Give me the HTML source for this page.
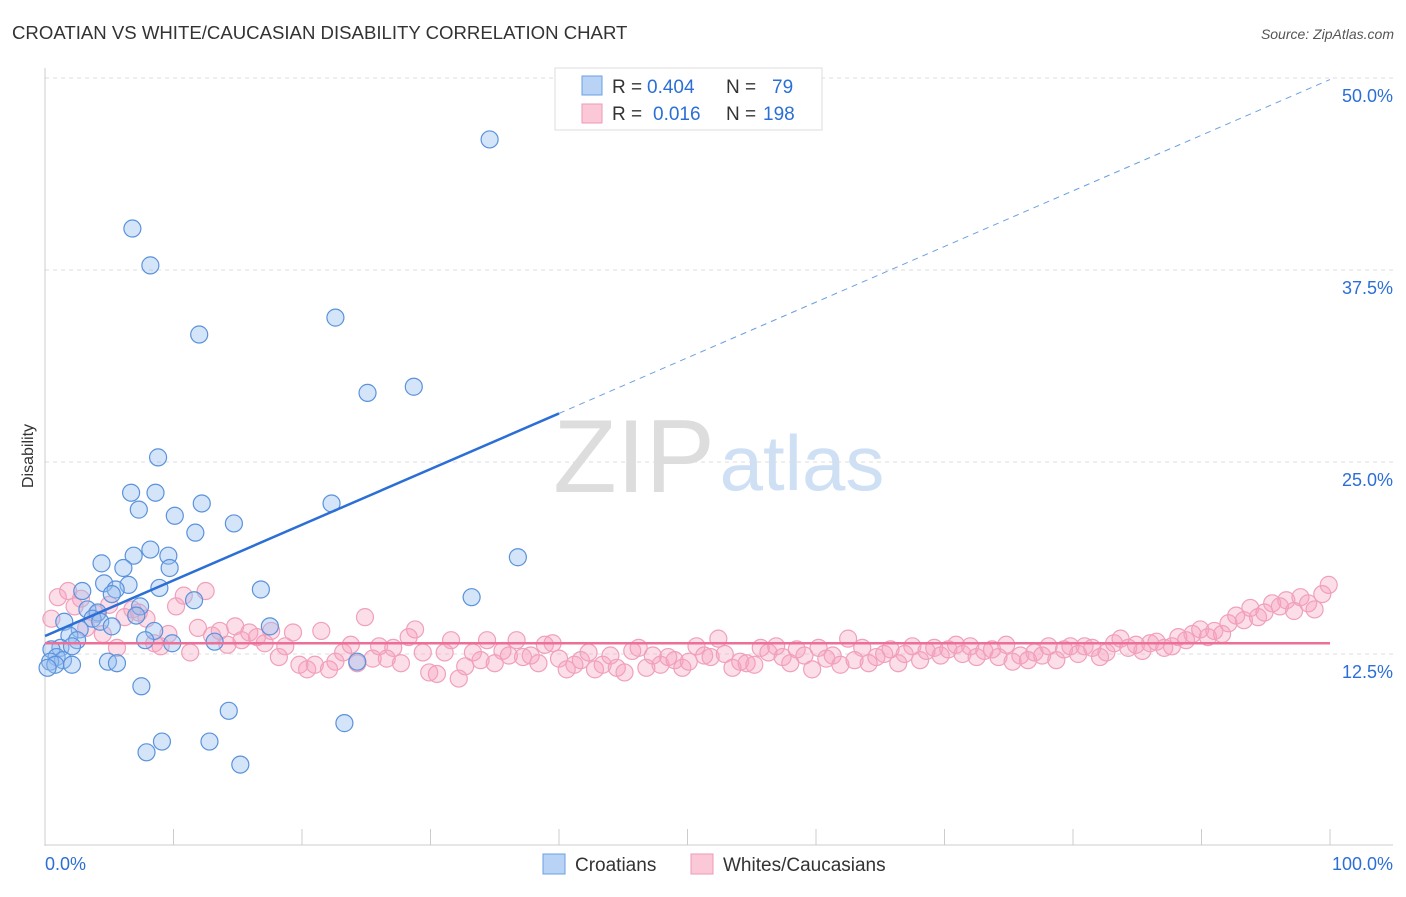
<!DOCTYPE html>
<html><head><meta charset="utf-8"><style>
body{margin:0;background:#fff;font-family:"Liberation Sans",sans-serif;}
svg text{font-family:"Liberation Sans",sans-serif;}
</style></head><body>
<svg id="chart" width="1406" height="892" xmlns="http://www.w3.org/2000/svg">
<text x="12" y="39" font-size="18.6" fill="#333">CROATIAN VS WHITE/CAUCASIAN DISABILITY CORRELATION CHART</text>
<text x="1394" y="39" font-size="14" fill="#555" text-anchor="end" font-style="italic">Source: ZipAtlas.com</text>
<text transform="translate(33,456) rotate(-90)" font-size="16" fill="#333" text-anchor="middle">Disability</text>
<g><text x="634" y="492" font-size="104" fill="#ddd" font-family="Liberation Serif" text-anchor="middle">ZIP</text><text x="802" y="490" font-size="78" fill="#cfe0f5" text-anchor="middle">atlas</text></g>
<g id="grid"></g><g id="axes"></g><g id="pink"></g><g id="blue"></g><g id="lines"></g>
<g>
<rect x="555" y="68" width="267" height="62" fill="#fff" stroke="#ddd"/>
<rect x="582" y="76" width="20" height="19" fill="#b8d3f5" stroke="#6a9fe0"/>
<rect x="582" y="104" width="20" height="19" fill="#fbc8d8" stroke="#ef9ab5"/>
<text x="612" y="93" font-size="19" fill="#333">R =</text>
<text x="647" y="93" font-size="19" fill="#2b6fd6">0.404</text>
<text x="726" y="93" font-size="19" fill="#333">N =</text>
<text x="772" y="93" font-size="19" fill="#2b6fd6">79</text>
<text x="612" y="120" font-size="19" fill="#333">R =</text>
<text x="653" y="120" font-size="19" fill="#2b6fd6">0.016</text>
<text x="726" y="120" font-size="19" fill="#333">N =</text>
<text x="763" y="120" font-size="19" fill="#2b6fd6">198</text>
</g>
<g>
<rect x="543" y="854" width="22" height="20" fill="#b8d3f5" stroke="#6a9fe0"/>
<text x="575" y="871" font-size="19" fill="#333">Croatians</text>
<rect x="691" y="854" width="22" height="20" fill="#fbc8d8" stroke="#ef9ab5"/>
<text x="723" y="871" font-size="19" fill="#333">Whites/Caucasians</text>
</g>
</svg>
<script>
const yTicks=[12.5,25,37.5,50];
const yTickLabels=["12.5%","25.0%","37.5%","50.0%"];
const blueX=[34.6,6.8,8.2,12.0,22.6,25.1,28.7,8.8,6.7,8.6,12.2,22.3,7.3,10.1,14.7,11.7,8.2,6.9,9.6,36.8,4.4,6.1,9.7,4.6,6.5,5.5,2.9,8.9,16.8,5.2,33.2,11.6,7.4,3.3,4.1,7.1,3.7,1.5,4.3,5.2,2.7,8.5,17.5,1.9,2.5,7.8,9.9,13.2,1.2,2.1,0.5,0.9,1.4,0.4,0.8,0.2,2.1,4.9,5.6,24.3,7.5,14.3,23.3,9.1,12.8,7.9,15.2];
const blueY=[46.0,40.2,37.8,33.3,34.4,29.5,29.9,25.3,23.0,23.0,22.3,22.3,21.9,21.5,21.0,20.4,19.3,18.9,18.9,18.8,18.4,18.1,18.1,17.1,17.0,16.7,16.6,16.8,16.7,16.4,16.2,16.0,15.6,15.4,15.2,15.0,14.8,14.6,14.6,14.3,14.1,14.0,14.3,13.7,13.4,13.4,13.2,13.3,12.9,13.0,12.8,12.3,12.1,12.0,11.8,11.6,11.8,12.0,11.9,12.0,10.4,8.8,8.0,6.8,6.8,6.1,5.3];
const pinkX=[0.5,1,1.8,2.3,2.8,3.2,4,4.5,5,5.6,6.2,6.8,7.3,7.9,8.5,9,9.6,10.2,10.8,11.3,11.9,12.5,13,13.6,14.2,14.8,15.3,15.9,16.5,17.1,17.6,18.2,18.7,19.3,19.8,20.4,21,21.5,22.1,22.6,23.2,23.8,24.3,24.9,25.5,26,26.6,27.1,27.7,28.3,28.8,29.4,29.9,30.5,31.1,31.6,32.2,32.7,33.3,33.9,34.4,35,35.6,36.1,36.7,37.2,37.8,38.4,38.9,39.5,40,40.6,41.2,41.7,42.3,42.8,43.4,44,44.5,45.1,45.7,46.2,46.8,47.3,47.9,48.5,49,49.6,50.1,50.7,51.3,51.8,52.4,52.9,53.5,54.1,54.6,55.2,55.7,56.3,56.9,57.4,58,58.5,59.1,59.7,60.2,60.8,61.3,61.9,62.5,63,63.6,64.1,64.7,65.3,65.8,66.4,66.9,67.5,68.1,68.6,69.2,69.7,70.3,70.9,71.4,72,72.5,73.1,73.7,74.2,74.8,75.3,75.9,76.5,77,77.6,78.1,78.7,79.3,79.8,80.4,80.9,81.5,82.1,82.6,83.2,83.7,84.3,84.9,85.4,86,86.5,87.1,87.7,88.2,88.8,89.3,89.9,90.5,91,91.6,92.1,92.7,93.3,93.8,94.4,94.9,95.5,96.1,96.6,97.2,97.7,98.3,98.8,99.4,99.9];
const pinkY=[14.8,16.2,16.6,15.6,16.1,14.2,15.1,13.8,15.7,12.9,14.9,15.4,15.2,14.8,13.2,13.0,13.8,15.6,16.3,12.6,14.2,16.6,13.7,14.0,13.1,14.3,13.4,13.9,13.6,13.2,14.0,12.3,13.0,13.9,11.8,11.5,11.8,14.0,11.5,12.0,12.6,13.1,11.9,14.9,12.2,13.0,12.2,12.9,11.9,13.6,14.1,12.6,11.3,11.2,12.6,13.4,10.9,11.7,12.6,12.1,13.4,11.9,12.7,12.4,13.4,12.3,12.4,11.9,13.1,13.2,12.2,11.5,11.8,12.1,12.6,11.5,11.8,12.4,11.6,11.3,12.7,12.9,11.6,12.4,11.8,12.3,12.1,11.6,12.0,13.0,12.4,12.3,13.5,12.5,11.6,12.0,11.9,11.8,12.9,12.6,13.0,12.3,11.9,12.8,12.4,11.5,12.9,12.2,12.4,11.8,13.5,12.1,12.9,11.9,12.3,12.5,12.8,11.9,12.5,13.0,12.1,12.7,12.9,12.4,12.8,13.1,12.5,13.0,12.3,12.7,12.8,12.3,13.1,12.0,12.4,12.1,12.6,12.4,13.0,12.1,12.8,13.0,12.5,13.0,12.9,12.3,12.6,13.2,13.5,12.9,13.1,12.7,13.2,13.3,12.9,13.0,13.6,13.4,13.8,14.1,13.6,14.0,13.8,14.5,15.0,14.7,15.5,14.9,15.2,15.8,15.6,16.0,15.3,16.2,15.8,15.4,16.4,17.0];
const blueFit=[13.67,49.9];
const pinkFit=[13.2,13.2];
const X=v=>45+v*12.85, Y=v=>846-v*15.36;
const NS="http://www.w3.org/2000/svg";
function mk(p,t,a){const e=document.createElementNS(NS,t);for(const k in a)e.setAttribute(k,a[k]);document.getElementById(p).appendChild(e);return e;}
yTicks.forEach((t,i)=>{
 const g=mk('grid','line',{x1:45,x2:1393,y1:Y(t),y2:Y(t),stroke:'#ddd','stroke-dasharray':'4,4'});
 
 
 const l=mk('axes','text',{x:1393,y:Y(t)+24,'font-size':18,fill:'#2b6fd6','text-anchor':'end'});
 l.textContent=yTickLabels[i];
 
 
});
let a=mk('axes','line',{x1:45,x2:45,y1:68,y2:846,stroke:'#ccc'});


a=mk('axes','line',{x1:45,x2:1393,y1:845,y2:845,stroke:'#ccc'});


for(let i=0;i<=10;i++){const t=mk('axes','line',{x1:X(i*10),x2:X(i*10),y1:829,y2:845,stroke:'#ccc'});
 
 }
[[0,"0.0%",'start',45],[100,"100.0%",'end',1393]].forEach(d=>{const t=mk('axes','text',{x:d[3],y:870,'font-size':18,fill:'#2b6fd6','text-anchor':d[2]});t.textContent=d[1];
 
 });
pinkX.forEach((x,i)=>{const c=mk('pink','circle',{cx:X(x),cy:Y(pinkY[i]),r:8.5,fill:'rgba(247,160,190,0.35)',stroke:'#f0a0bb','stroke-width':1.2});
 
 });
blueX.forEach((x,i)=>{const c=mk('blue','circle',{cx:X(x),cy:Y(blueY[i]),r:8.5,fill:'rgba(150,190,240,0.4)',stroke:'#5a92dc','stroke-width':1.2});
 
 });
const bAt=v=>blueFit[0]+(blueFit[1]-blueFit[0])*v/100;
let ln=mk('lines','line',{x1:X(0),y1:Y(bAt(0)),x2:X(40),y2:Y(bAt(40)),stroke:'#2b6fd6','stroke-width':2.5});


ln=mk('lines','line',{x1:X(40),y1:Y(bAt(40)),x2:X(100),y2:Y(bAt(100)),stroke:'#6a9fe0','stroke-width':1,'stroke-dasharray':'6,5'});


ln=mk('lines','line',{x1:X(0),y1:Y(pinkFit[0]),x2:X(100),y2:Y(pinkFit[1]),stroke:'#ec6f97','stroke-width':2.5});


</script>
</body></html>
